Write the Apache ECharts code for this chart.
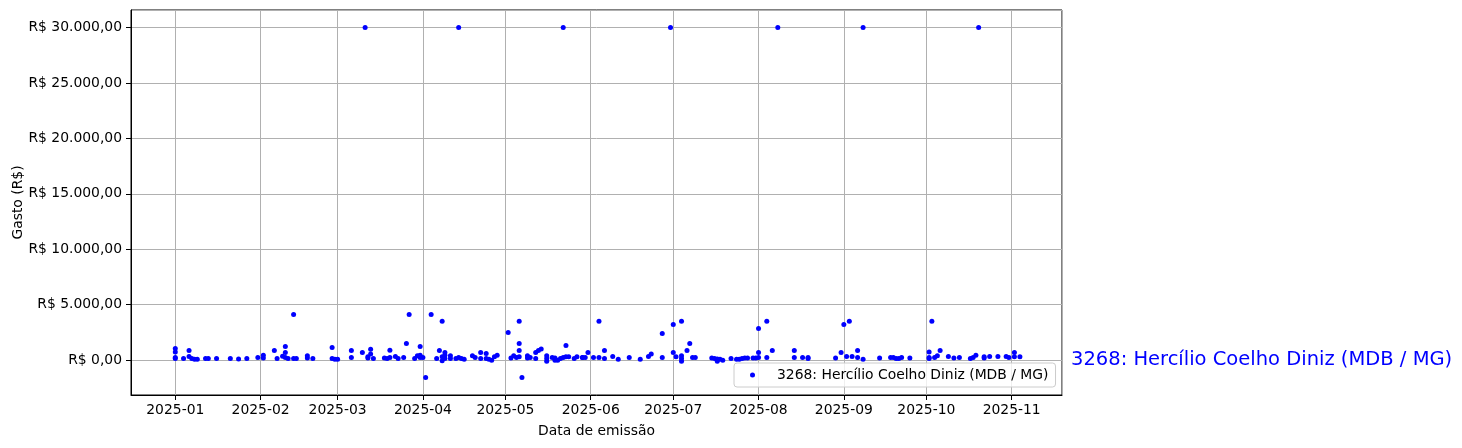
<!DOCTYPE html>
<html>
<head>
<meta charset="utf-8">
<script src="https://cdn.jsdelivr.net/npm/echarts@6/dist/echarts.min.js"></script>
<style>
html,body{margin:0;padding:0;background:#fff;}
#chart{width:1462px;height:448px;}
</style>
</head>
<body>
<div id="chart"></div>
<script>
// ---- data ----
const seriesName = "3268: Hercílio Coelho Diniz (MDB / MG)";
const xAxisTitle = "Data de emissão";
const yAxisTitle = "Gasto (R$)";
const dates = [
"2025-01-01","2025-01-01","2025-01-01","2025-01-01","2025-01-04","2025-01-06","2025-01-06","2025-01-07","2025-01-08","2025-01-09","2025-01-12","2025-01-13","2025-01-16","2025-01-21","2025-01-24","2025-01-27","2025-01-31",
"2025-02-02","2025-02-02","2025-02-06","2025-02-07","2025-02-09","2025-02-10","2025-02-10","2025-02-10","2025-02-11","2025-02-13","2025-02-13","2025-02-14","2025-02-18","2025-02-18","2025-02-20","2025-02-27","2025-02-27","2025-02-28",
"2025-03-01","2025-03-06","2025-03-06","2025-03-10","2025-03-11","2025-03-12","2025-03-12","2025-03-13","2025-03-13","2025-03-14","2025-03-18","2025-03-19","2025-03-20","2025-03-20","2025-03-22","2025-03-23","2025-03-25","2025-03-26","2025-03-27","2025-03-29","2025-03-30","2025-03-31","2025-03-31","2025-03-31",
"2025-04-01","2025-04-02","2025-04-04","2025-04-06","2025-04-07","2025-04-08","2025-04-08","2025-04-08","2025-04-09","2025-04-09","2025-04-09","2025-04-11","2025-04-11","2025-04-13","2025-04-14","2025-04-14","2025-04-15","2025-04-16","2025-04-19","2025-04-20","2025-04-22","2025-04-22","2025-04-24","2025-04-24","2025-04-25","2025-04-26","2025-04-27","2025-04-28",
"2025-05-02","2025-05-03","2025-05-04","2025-05-05","2025-05-06","2025-05-06","2025-05-06","2025-05-06","2025-05-07","2025-05-09","2025-05-09","2025-05-10","2025-05-12","2025-05-12","2025-05-13","2025-05-14","2025-05-16","2025-05-16","2025-05-16","2025-05-18","2025-05-19","2025-05-19","2025-05-20","2025-05-21","2025-05-22","2025-05-22","2025-05-23","2025-05-23","2025-05-24","2025-05-26","2025-05-27","2025-05-29","2025-05-29","2025-05-30","2025-05-31",
"2025-06-02","2025-06-04","2025-06-04","2025-06-06","2025-06-06","2025-06-09","2025-06-11","2025-06-15","2025-06-19","2025-06-22","2025-06-23","2025-06-27","2025-06-27","2025-06-30",
"2025-07-01","2025-07-01","2025-07-02","2025-07-04","2025-07-04","2025-07-04","2025-07-04","2025-07-06","2025-07-07","2025-07-08","2025-07-09","2025-07-15","2025-07-16","2025-07-17","2025-07-17","2025-07-18","2025-07-19","2025-07-22","2025-07-24","2025-07-25","2025-07-26","2025-07-27","2025-07-28","2025-07-30","2025-07-31",
"2025-08-01","2025-08-01","2025-08-01","2025-08-04","2025-08-04","2025-08-06","2025-08-08","2025-08-14","2025-08-14","2025-08-17","2025-08-19","2025-08-19","2025-08-29","2025-08-31",
"2025-09-01","2025-09-02","2025-09-03","2025-09-04","2025-09-06","2025-09-06","2025-09-08","2025-09-08","2025-09-14","2025-09-18","2025-09-19","2025-09-20","2025-09-21","2025-09-22","2025-09-25",
"2025-10-02","2025-10-02","2025-10-02","2025-10-03","2025-10-04","2025-10-05","2025-10-06","2025-10-09","2025-10-11","2025-10-13","2025-10-17","2025-10-18","2025-10-19","2025-10-20","2025-10-22","2025-10-22","2025-10-24","2025-10-27","2025-10-30","2025-10-31",
"2025-11-02","2025-11-02","2025-11-04"
];
const values = [
150,1050,750,250,150,870,330,150,90,90,150,150,150,150,100,150,250,
450,200,870,150,360,1230,700,250,150,4130,150,150,390,200,150,150,1150,90,
90,870,250,700,30000,300,200,990,560,150,200,150,900,250,330,150,250,1500,4130,150,390,250,1230,450,
250,-1560,4130,150,870,3520,-60,300,450,700,150,390,150,150,30000,250,150,90,390,250,700,150,600,150,90,0,300,450,
2500,200,390,250,3520,1500,870,300,-1560,390,200,250,700,150,870,1020,390,150,-90,250,200,0,0,150,30000,250,300,1330,300,150,300,250,250,250,700,
250,3520,250,870,150,330,90,250,90,330,560,2400,250,30000,
3220,700,300,3520,390,150,-90,870,1500,250,250,200,150,100,-90,90,0,150,90,90,150,200,200,200,200,
2860,700,250,3520,250,870,30000,870,250,250,250,150,200,700,
3220,330,3520,330,870,250,90,30000,200,250,250,150,150,250,200,
740,250,150,3520,250,390,870,330,200,250,150,250,450,30000,300,200,330,330,330,250,
700,300,300
];

// ---- build ----
const DAY = 86400000;
const jan1 = new Date(2025, 0, 1).getTime();
function parseD(s){ const p = s.split('-'); return new Date(+p[0], +p[1]-1, +p[2]).getTime(); }
const points = dates.map((d, i) => [parseD(d), values[i]]);
function brl(v){
  const neg = v < 0; v = Math.abs(v);
  const s = Math.round(v).toString().replace(/\B(?=(\d{3})+(?!\d))/g, '.');
  return 'R$ ' + (neg ? '-' : '') + s + ',00';
}
const FONT = 'DejaVu Sans';
const FS = 13.9;
const chart = echarts.init(document.getElementById('chart'), null, {renderer: 'canvas'});
chart.setOption({
  animation: false,
  backgroundColor: '#ffffff',
  textStyle: {fontFamily: FONT},
  grid: {left: 131, top: 10, right: 400, bottom: 53, containLabel: false, outerBoundsMode: 'none', show: true, borderColor: '#000', borderWidth: 1, backgroundColor: 'transparent'},
  xAxis: {
    type: 'time',
    min: jan1 - 16.1 * DAY,
    max: jan1 + 322.3 * DAY,
    splitNumber: 11,
    minInterval: 28 * DAY,
    maxInterval: 31 * DAY,
    name: xAxisTitle,
    nameLocation: 'middle',
    nameGap: 29,
    nameMoveOverlap: false,
    nameTextStyle: {fontFamily: FONT, fontSize: FS, color: '#000'},
    axisLine: {show: true, onZero: false, lineStyle: {color: '#000', width: 1}},
    axisTick: {show: true, length: 5, lineStyle: {color: '#000', width: 1}},
    axisLabel: {
      fontFamily: FONT, fontSize: FS, color: '#000', margin: 8,
      showMinLabel: false, showMaxLabel: false,
      formatter: function (v) { const d = new Date(v); return d.getFullYear() + '-' + String(d.getMonth() + 1).padStart(2, '0'); }
    },
    splitLine: {show: true, lineStyle: {color: '#b0b0b0', width: 1}}
  },
  yAxis: {
    type: 'value',
    min: -3138,
    max: 31578,
    name: yAxisTitle,
    nameLocation: 'middle',
    nameGap: 106,
    nameRotate: 90,
    nameMoveOverlap: false,
    nameTextStyle: {fontFamily: FONT, fontSize: FS, color: '#000'},
    axisLine: {show: true, onZero: false, lineStyle: {color: '#000', width: 1}},
    axisTick: {show: true, length: 5, lineStyle: {color: '#000', width: 1}},
    axisLabel: {fontFamily: FONT, fontSize: FS, color: '#000', margin: 9, showMinLabel: false, showMaxLabel: false, formatter: brl},
    splitLine: {show: true, lineStyle: {color: '#b0b0b0', width: 1}}
  },
  legend: {
    show: true,
    left: 734, top: 363,
    padding: [4, 7, 4, 16],
    itemWidth: 5, itemHeight: 5,
    icon: 'circle',
    borderColor: '#cccccc', borderWidth: 1, borderRadius: 3,
    backgroundColor: 'rgba(255,255,255,0.8)',
    textStyle: {fontFamily: FONT, fontSize: FS, color: '#000', lineHeight: 16, padding: [0, 0, 0, 17]},
    data: [seriesName]
  },
  graphic: [{
    type: 'text', left: 1071, top: 350,
    style: {text: seriesName, fontFamily: FONT, fontSize: 19.5, fill: '#0000ff'}
  }],
  series: [{
    name: seriesName,
    type: 'scatter',
    symbol: 'circle',
    symbolSize: 5,
    itemStyle: {color: '#0000ff', opacity: 1},
    data: points
  }]
});
</script>
</body>
</html>
